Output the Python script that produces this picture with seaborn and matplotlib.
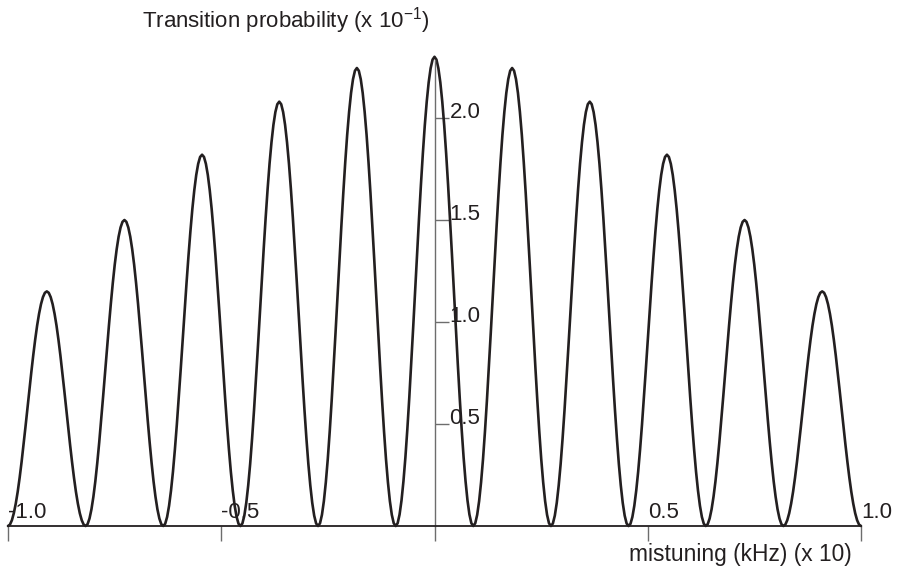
import numpy as np
import pandas as pd
import matplotlib
matplotlib.use("Agg")
import matplotlib.pyplot as plt
import seaborn as sns

# ---- data ----
peak_x = [-0.909, -0.727, -0.545, -0.364, -0.182, 0.0, 0.182, 0.364, 0.545, 0.727, 0.909]
peak_heights = [1.15, 1.50, 1.82, 2.08, 2.245, 2.30, 2.245, 2.08, 1.82, 1.50, 1.15]
trough_x = [-1.0, -0.818, -0.636, -0.455, -0.273, -0.091, 0.091, 0.273, 0.455, 0.636, 0.818, 1.0]
lobe_frac_pos = [0.0, 0.05, 0.10, 0.15, 0.20, 0.25, 0.30, 0.35, 0.40, 0.45, 0.50,
                 0.55, 0.60, 0.65, 0.70, 0.75, 0.80, 0.85, 0.90, 0.95, 1.0]
lobe_profile = [0.0, 0.006, 0.0245, 0.0545, 0.0955, 0.146, 0.206, 0.273, 0.3455, 0.422, 0.5,
                0.578, 0.6545, 0.727, 0.794, 0.854, 0.9045, 0.9455, 0.9755, 0.994, 1.0]

x_ticks = [-1.0, -0.5, 0.0, 0.5, 1.0]
x_tick_labels = ["-1.0", "-0.5", "", "0.5", "1.0"]
y_ticks = [0.5, 1.0, 1.5, 2.0]
y_tick_labels = ["0.5", "1.0", "1.5", "2.0"]

title_text = r"Transition probability (x 10$^{\mathregular{-1}}$)"
xlabel_text = "mistuning (kHz) (x 10)"

# ---- build the curve table from the read values ----
xs, ys = [], []
for i, (px, h) in enumerate(zip(peak_x, peak_heights)):
    xl, xr = trough_x[i], trough_x[i + 1]
    for f, p in zip(lobe_frac_pos, lobe_profile):
        xs.append(xl + f * (px - xl))
        ys.append(h * p)
    for f, p in zip(lobe_frac_pos[::-1][1:], lobe_profile[::-1][1:]):
        xs.append(xr + f * (px - xr))
        ys.append(h * p)
df = pd.DataFrame({"mistuning": xs, "probability": ys, "order": range(len(xs))})

# ---- style ----
sns.set_theme(style="white")
plt.rcParams["font.family"] = ["Liberation Sans", "DejaVu Sans"]
plt.rcParams["mathtext.fontset"] = "custom"
plt.rcParams["mathtext.rm"] = "Liberation Sans"

W, H = 900, 574
fig = plt.figure(figsize=(W / 100, H / 100), dpi=100)
x0_px, x1_px = 8, 861
y0_px, ytop_px = 526, 60
ax = fig.add_axes([x0_px / W, (H - y0_px) / H, (x1_px - x0_px) / W, (y0_px - ytop_px) / H])

ink = "#231f20"
axis_grey = "#6d6d6d"

sns.lineplot(data=df, x="mistuning", y="probability", sort=False, estimator=None,
             color=ink, linewidth=1.9, ax=ax, clip_on=False)

ax.set_xlim(-1.0, 1.0)
ax.set_ylim(0, (y0_px - ytop_px) / 204.0)

for s in ["top", "right"]:
    ax.spines[s].set_visible(False)
ax.spines["left"].set_position(("data", 0.0))
ax.spines["left"].set_color(axis_grey)
ax.spines["left"].set_linewidth(1.0)
ax.spines["bottom"].set_color(ink)
ax.spines["bottom"].set_linewidth(1.3)

ax.set_xticks(x_ticks)
ax.set_xticklabels([])
ax.tick_params(axis="x", direction="out", length=11, width=1.0, color=axis_grey, bottom=True)
ax.set_yticks(y_ticks)
ax.set_yticklabels([])
ax.tick_params(axis="y", direction="in", length=10, width=1.0, color=axis_grey, left=True)
ax.set_xlabel("")
ax.set_ylabel("")
ax.grid(False)

for t, lab in zip(x_ticks, x_tick_labels):
    if lab:
        ax.annotate(lab, xy=(t, 0), xytext=(0, 8), textcoords="offset pixels",
                    ha="left", va="baseline", fontsize=16, color=ink, annotation_clip=False)
for t, lab in zip(y_ticks, y_tick_labels):
    ax.annotate(lab, xy=(0, t), xytext=(15, 0), textcoords="offset pixels",
                ha="left", va="baseline", fontsize=16, color=ink, annotation_clip=False)

fig.text(142 / W, 1 - 27 / H, title_text, ha="left", va="baseline", fontsize=16, color=ink)
fig.text(852 / W, 1 - 561 / H, xlabel_text, ha="right", va="baseline", fontsize=16.4, color=ink)

fig.savefig("out.png", dpi=100)
